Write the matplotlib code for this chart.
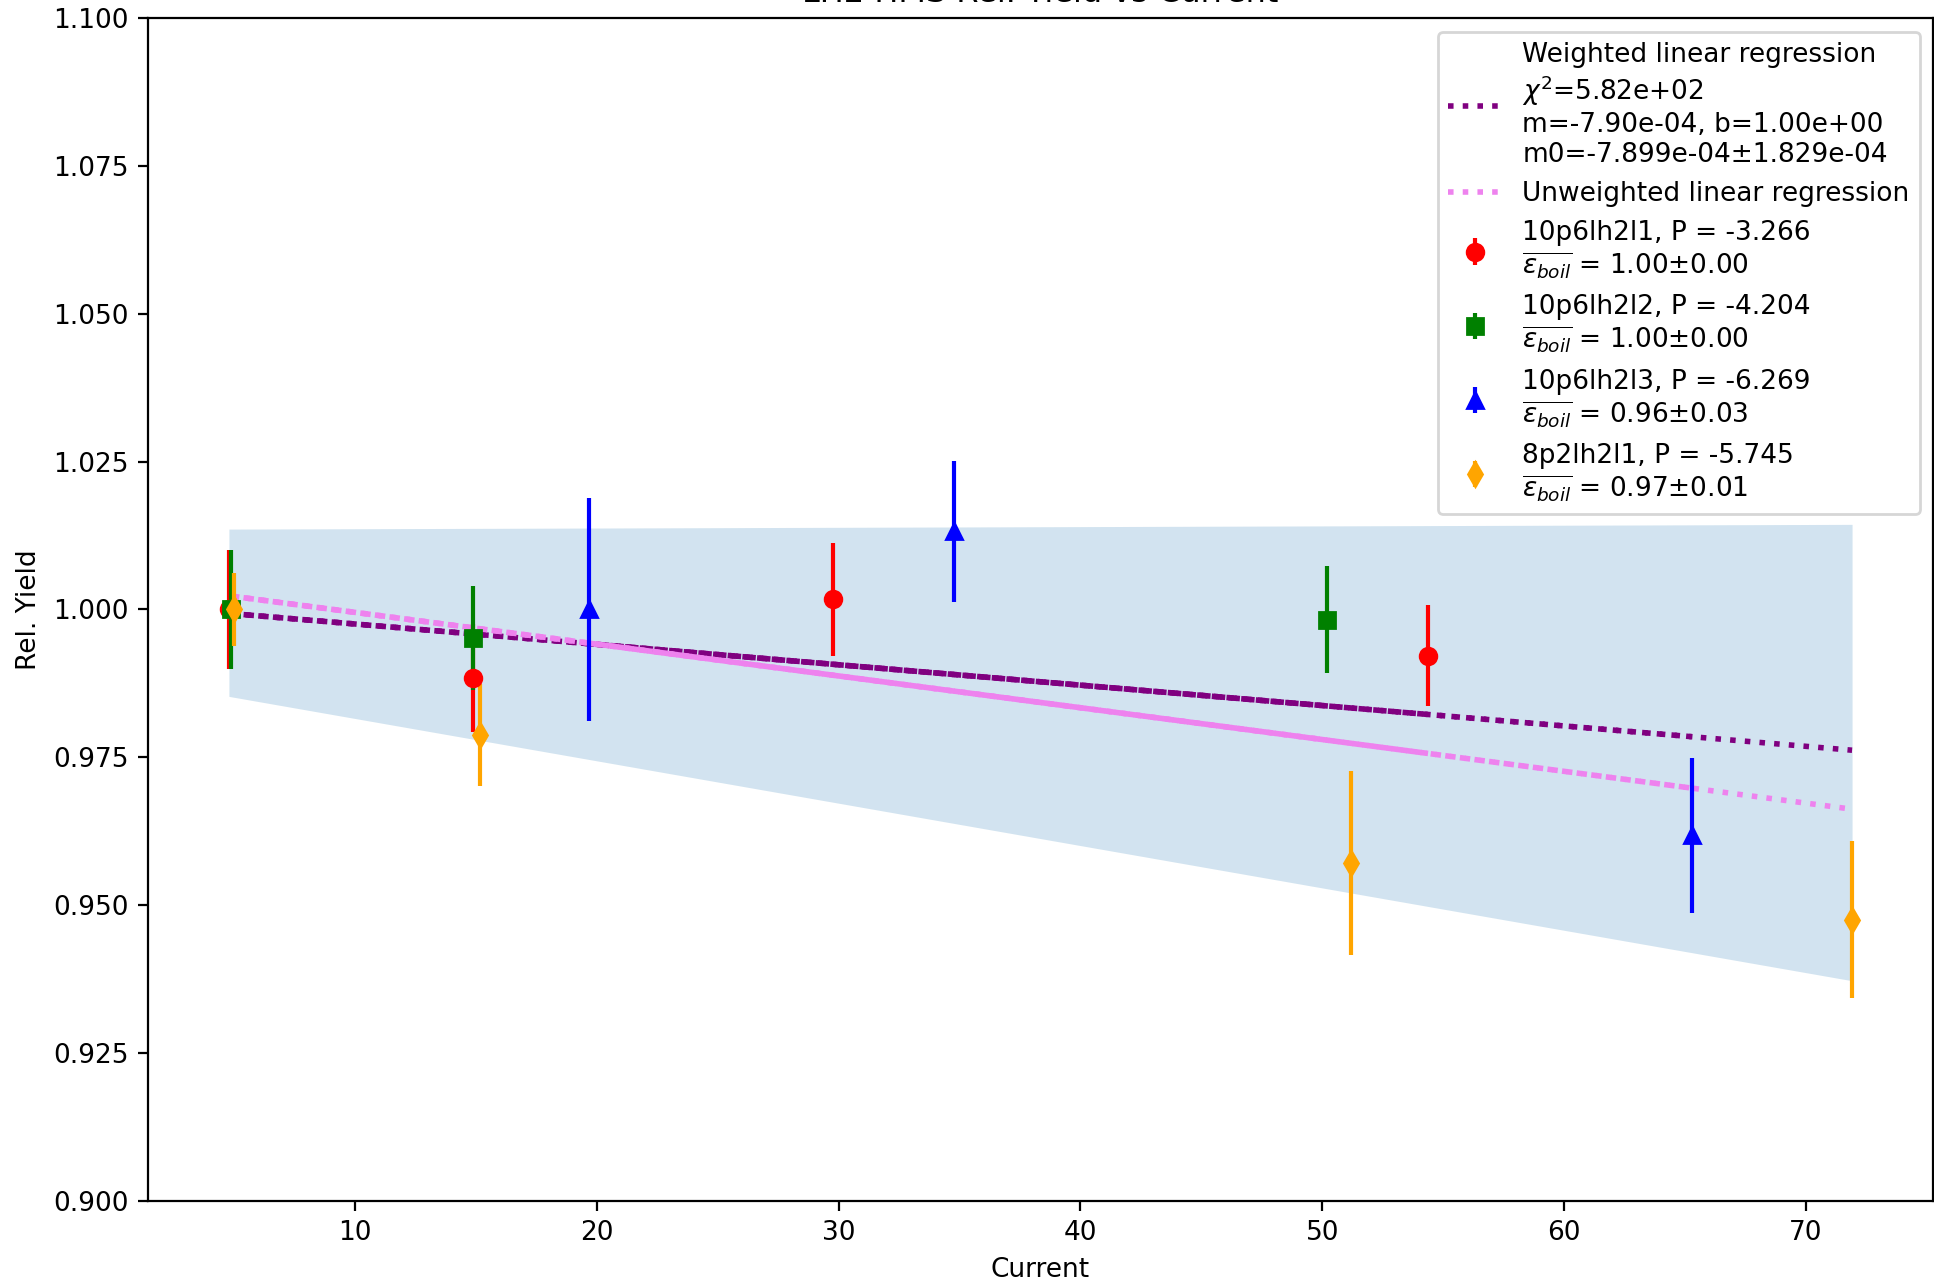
import matplotlib
matplotlib.use('Agg')
import matplotlib.pyplot as plt
import numpy as np

# runs: name, P value, boil factor
run_names = ['10p6lh2l1', '10p6lh2l2', '10p6lh2l3', '8p2lh2l1']
run_p = ['-3.266', '-4.204', '-6.269', '-5.745']
run_boil = ['1.00±0.00', '1.00±0.00', '0.96±0.03', '0.97±0.01']
run_colors = ['red', 'green', 'blue', 'orange']
run_markers = ['o', 's', '^', 'd']

# current and relative yield per run
cur_1 = [4.80, 14.88, 29.78, 54.37]
yld_1 = [1.000, 0.9884, 1.0017, 0.9922]
err_1 = [0.0101, 0.0092, 0.0095, 0.0086]

cur_2 = [4.88, 14.88, 50.20]
yld_2 = [1.000, 0.9951, 0.9983]
err_2 = [0.0101, 0.0088, 0.0091]

cur_3 = [19.68, 34.77, 65.30]
yld_3 = [1.000, 1.0132, 0.9618]
err_3 = [0.0188, 0.0120, 0.0131]

cur_4 = [5.00, 15.18, 51.20, 71.90]
yld_4 = [1.000, 0.9788, 0.9571, 0.9475]
err_4 = [0.0061, 0.0086, 0.0155, 0.0133]

# fitted lines (slope, intercept)
w_slope, w_icpt = -3.45e-4, 1.0010
u_slope, u_icpt = -5.38e-4, 1.0049

# shaded band edges at lowest / highest current
band_x = [4.80, 71.90]
band_lo = [0.9853, 0.9372]
band_hi = [1.0136, 1.0144]


def run():
    plt.rcParams['font.size'] = 9.5

    currents = [cur_1, cur_2, cur_3, cur_4]
    yields = [yld_1, yld_2, yld_3, yld_4]
    errors = [err_1, err_2, err_3, err_4]

    fig, ax = plt.subplots(figsize=(9.67, 6.415))
    fig.subplots_adjust(left=0.0764, right=0.9996, top=0.9857, bottom=0.0642)

    ax.fill_between(band_x, band_lo, band_hi, color='C0', alpha=0.2, linewidth=0)

    # weighted fit, drawn over each run's current range
    for i, c in enumerate(currents):
        x = np.array([min(c), max(c)])
        lab = None
        if i == 0:
            lab = ('Weighted linear regression\n$\\chi^2$=5.82e+02\n'
                   'm=-7.90e-04, b=1.00e+00\nm0=-7.899e-04±1.829e-04')
        ax.plot(x, w_slope * x + w_icpt, ':', color='purple', linewidth=2, label=lab)

    # unweighted fit
    for i, c in enumerate(currents):
        x = np.array([min(c), max(c)])
        lab = 'Unweighted linear regression' if i == 0 else None
        ax.plot(x, u_slope * x + u_icpt, ':', color='violet', linewidth=2, label=lab)

    for i in range(len(run_names)):
        lab = '{}, P = {}\n$\\overline{{\\epsilon_{{boil}}}}$ = {}'.format(run_names[i], run_p[i], run_boil[i])
        ax.errorbar(currents[i], yields[i], yerr=errors[i], fmt=run_markers[i],
                    color=run_colors[i], label=lab)

    ax.set_ylim(0.9, 1.1)
    ax.set_xlabel('Current')
    ax.set_ylabel('Rel. Yield')
    ax.set_title('LH2 HMS Rel. Yield vs Current', fontsize=11.5)
    ax.legend(loc='upper right')

    fig.savefig('out.png', dpi=200)


run()
